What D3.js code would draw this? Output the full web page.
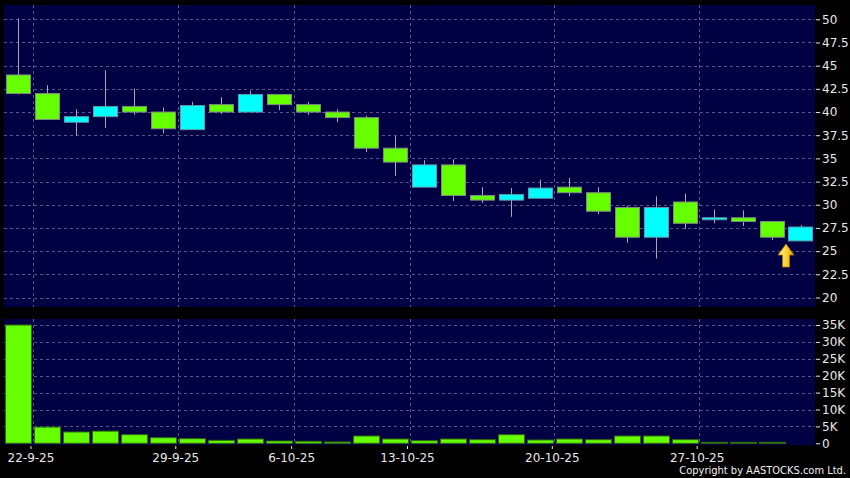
<!DOCTYPE html>
<html>
<head>
<meta charset="utf-8">
<script src="https://cdn.jsdelivr.net/npm/d3@7"></script>
<style>
  html, body { margin: 0; padding: 0; background: #000; }
  svg { display: block; }
  .axis text { fill: #e8e8e8; font-family: "DejaVu Sans", sans-serif; font-size: 12px; }
  .axis line { stroke: #e8e8e8; }
  .axis path { display: none; }
</style>
</head>
<body>
<div id="chart"></div>
<script>
// trading days shown on the chart
const dates = ["19-9-25", "22-9-25", "23-9-25", "24-9-25", "25-9-25", "26-9-25",
  "29-9-25", "30-9-25", "2-10-25", "3-10-25", "6-10-25", "8-10-25", "9-10-25", "10-10-25",
  "13-10-25", "14-10-25", "15-10-25", "16-10-25", "17-10-25", "20-10-25", "21-10-25",
  "22-10-25", "23-10-25", "24-10-25", "27-10-25", "28-10-25", "30-10-25", "31-10-25"];

const openP  = [44.0, 42.0, 38.9, 39.5, 40.6, 40.0, 38.1, 40.8, 40.0, 41.9, 40.8, 40.0, 39.4, 36.1,
  31.9, 34.3, 31.0, 30.5, 30.7, 31.9, 31.3, 29.7, 26.5, 30.3, 28.5, 28.6, 28.2, 26.1];
const highP  = [50.1, 42.9, 40.3, 44.5, 42.5, 40.5, 41.1, 41.6, 42.3, 41.9, 41.1, 40.3, 39.6, 37.4,
  34.8, 34.9, 31.9, 31.8, 32.7, 32.9, 31.9, 29.9, 30.9, 31.2, 29.5, 29.4, 28.2, 27.8];
const lowP   = [41.9, 39.2, 37.45, 38.3, 39.7, 37.7, 38.1, 39.8, 40.0, 40.2, 39.7, 38.9, 35.7, 33.1,
  31.9, 30.4, 30.2, 28.7, 30.7, 30.9, 29.0, 25.9, 24.2, 27.4, 28.0, 27.7, 26.2, 26.1];
const closeP = [42.0, 39.2, 39.5, 40.6, 40.0, 38.2, 40.7, 40.0, 41.9, 40.8, 40.0, 39.4, 36.1, 34.6,
  34.3, 31.0, 30.5, 31.1, 31.8, 31.3, 29.3, 26.5, 29.7, 28.0, 28.6, 28.2, 26.5, 27.6];
const volume = [35000, 4800, 3350, 3600, 2550, 1660, 1360, 880, 1270, 680, 590, 400, 2160, 1270,
  780, 1270, 1070, 2550, 980, 1270, 1070, 2160, 2160, 1070, 300, 300, 300, 0];

const xTickLabels = ["22-9-25", "29-9-25", "6-10-25", "13-10-25", "20-10-25", "27-10-25"];
const priceTicks = [20, 22.5, 25, 27.5, 30, 32.5, 35, 37.5, 40, 42.5, 45, 47.5, 50];
const volTicks = [0, 5000, 10000, 15000, 20000, 25000, 30000, 35000];
const arrowDate = "30-10-25"; // marker sits just after this candle

const width = 850;
const height = 478;
const plotLeft = 4, plotRight = 815;
const price = { top: 5, bottom: 307 };
const vol = { top: 319, bottom: 445 };

const upColor = "#00ffff";
const downColor = "#66ff00";
const panelColor = "#000042";
const gridColor = "#56568c";

const candles = dates.map((d, i) => ({
  date: d, open: openP[i], high: highP[i], low: lowP[i], close: closeP[i], vol: volume[i]
}));

const svg = d3.select("#chart")
  .append("svg")
  .attr("width", width)
  .attr("height", height);

svg.append("rect").attr("width", width).attr("height", height).attr("fill", "#000");

// scales
const xScale = d3.scaleBand()
  .domain(dates)
  .range([plotLeft, plotRight])
  .padding(0);

const yPrice = d3.scaleLinear().domain([20, 50]).range([297.5, 19.3]);
const yVol = d3.scaleLinear().domain([0, 35000]).range([443.3, 325]);

// panels
[price, vol].forEach(p => {
  svg.append("rect")
    .attr("x", plotLeft)
    .attr("y", p.top)
    .attr("width", plotRight - plotLeft)
    .attr("height", p.bottom - p.top)
    .attr("fill", panelColor);
});

// horizontal grid
svg.append("g")
  .selectAll("line")
  .data(priceTicks)
  .enter()
  .append("line")
  .attr("x1", plotLeft).attr("x2", plotRight)
  .attr("y1", d => Math.round(yPrice(d)) + 0.5)
  .attr("y2", d => Math.round(yPrice(d)) + 0.5)
  .attr("stroke", gridColor)
  .attr("stroke-dasharray", "3,3");

svg.append("g")
  .selectAll("line")
  .data(volTicks.filter(d => d > 0))
  .enter()
  .append("line")
  .attr("x1", plotLeft).attr("x2", plotRight)
  .attr("y1", d => Math.round(yVol(d)) + 0.5)
  .attr("y2", d => Math.round(yVol(d)) + 0.5)
  .attr("stroke", gridColor)
  .attr("stroke-dasharray", "3,3");

// vertical grid at week starts
[price, vol].forEach(p => {
  svg.append("g")
    .selectAll("line")
    .data(xTickLabels)
    .enter()
    .append("line")
    .attr("x1", d => Math.round(xScale(d)) + 0.5)
    .attr("x2", d => Math.round(xScale(d)) + 0.5)
    .attr("y1", p.top)
    .attr("y2", p.bottom)
    .attr("stroke", gridColor)
    .attr("stroke-dasharray", "3,3");
});

// candles
const bw = xScale.bandwidth();
const bodyW = bw * 0.83;

const candle = svg.append("g")
  .selectAll("g")
  .data(candles)
  .enter()
  .append("g");

candle.append("line")
  .attr("x1", d => Math.round(xScale(d.date) + bw / 2) + 0.5)
  .attr("x2", d => Math.round(xScale(d.date) + bw / 2) + 0.5)
  .attr("y1", d => yPrice(d.high))
  .attr("y2", d => yPrice(d.low))
  .attr("stroke", "#a8a8b8");

candle.append("rect")
  .attr("x", d => Math.round(xScale(d.date) + (bw - bodyW) / 2) + 0.5)
  .attr("y", d => yPrice(Math.max(d.open, d.close)))
  .attr("width", Math.round(bodyW))
  .attr("height", d => Math.max(2, yPrice(Math.min(d.open, d.close)) - yPrice(Math.max(d.open, d.close))))
  .attr("fill", d => d.close >= d.open ? upColor : downColor)
  .attr("stroke", d => d.close >= d.open ? "#5f9aa8" : "#7d8a80")
  .attr("stroke-width", 1);

// volume bars
const volW = bw * 0.9;
svg.append("g")
  .selectAll("rect")
  .data(candles.filter(d => d.vol > 0))
  .enter()
  .append("rect")
  .attr("x", d => Math.round(xScale(d.date) + (bw - volW) / 2) + 0.5)
  .attr("y", d => yVol(d.vol))
  .attr("width", Math.round(volW))
  .attr("height", d => Math.max(1, yVol(0) - yVol(d.vol)))
  .attr("fill", downColor)
  .attr("stroke", "#2e6a0a")
  .attr("stroke-width", 1);

// axes
const priceAxis = d3.axisRight(yPrice)
  .tickValues(priceTicks)
  .tickSize(4)
  .tickPadding(2)
  .tickFormat(d => d);
svg.append("g")
  .attr("class", "axis")
  .attr("transform", `translate(${plotRight + 1}, 0)`)
  .call(priceAxis);

const volAxis = d3.axisRight(yVol)
  .tickValues(volTicks)
  .tickSize(4)
  .tickPadding(2)
  .tickFormat(d => d === 0 ? "0" : (d / 1000) + "K");
svg.append("g")
  .attr("class", "axis")
  .attr("transform", `translate(${plotRight + 1}, 0)`)
  .call(volAxis);

const xAxis = d3.axisBottom(xScale)
  .tickValues(xTickLabels)
  .tickSize(3)
  .tickPadding(4)
  .offset(0);
svg.append("g")
  .attr("class", "axis")
  .attr("transform", `translate(${-bw / 2 - 2}, ${vol.bottom + 1})`)
  .call(xAxis);

// up arrow marker
const ai = dates.indexOf(arrowDate);
const ax = xScale(arrowDate) + bw;
const ay = yPrice(lowP[ai]) + 4;
const defs = svg.append("defs");
const grad = defs.append("linearGradient").attr("id", "arrowGrad")
  .attr("x1", 0).attr("x2", 1).attr("y1", 0).attr("y2", 0);
grad.append("stop").attr("offset", "0%").attr("stop-color", "#fff2a0");
grad.append("stop").attr("offset", "50%").attr("stop-color", "#ffd23a");
grad.append("stop").attr("offset", "100%").attr("stop-color", "#d99a00");

svg.append("path")
  .attr("d", `M${ax},${ay} L${ax + 8},${ay + 11} L${ax + 3.5},${ay + 11} L${ax + 3.5},${ay + 23}
              L${ax - 3.5},${ay + 23} L${ax - 3.5},${ay + 11} L${ax - 8},${ay + 11} Z`)
  .attr("fill", "url(#arrowGrad)")
  .attr("stroke", "#b07800")
  .attr("stroke-width", 0.8);

// copyright
svg.append("text")
  .attr("x", 846)
  .attr("y", 474)
  .attr("text-anchor", "end")
  .attr("fill", "#f0f0f0")
  .style("font-family", "'DejaVu Sans Condensed', 'DejaVu Sans', sans-serif")
  .style("font-size", "11px")
  .text("Copyright by AASTOCKS.com Ltd.");
</script>
</body>
</html>
